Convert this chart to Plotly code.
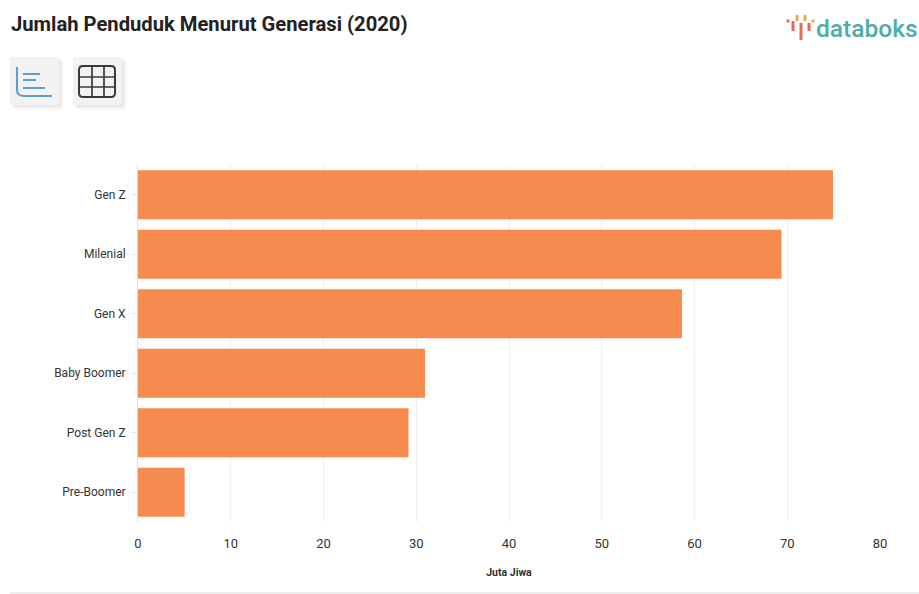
import plotly.graph_objects as go

categories = ["Gen Z", "Milenial", "Gen X", "Baby Boomer", "Post Gen Z", "Pre-Boomer"]
values = [74.93, 69.38, 58.65, 30.95, 29.17, 5.03]
x_ticks = [0, 10, 20, 30, 40, 50, 60, 70, 80]
title_text = "Jumlah Penduduk Menurut Generasi (2020)"
axis_title = "Juta Jiwa"
logo_text = "databoks"

W, H = 919, 594
L, R, T, B = 138, 880, 165, 522


def px(x):
    return (x - L) / (R - L)


def py(y):
    return (B - y) / (B - T)


fig = go.Figure(
    go.Bar(
        x=values,
        y=categories,
        orientation="h",
        marker=dict(color="#f68b50", line=dict(width=0)),
        hoverinfo="x+y",
    )
)

shapes = []


def line(x0, y0, x1, y1, color, width):
    shapes.append(dict(type="line", xref="paper", yref="paper", x0=px(x0), y0=py(y0),
                       x1=px(x1), y1=py(y1), line=dict(color=color, width=width), layer="above"))


def rrect(x0, y0, x1, y1, r, fill, color=None, width=0):
    pts = [
        f"M {px(x0 + r)} {py(y0)}", f"L {px(x1 - r)} {py(y0)}",
        f"Q {px(x1)} {py(y0)} {px(x1)} {py(y0 + r)}", f"L {px(x1)} {py(y1 - r)}",
        f"Q {px(x1)} {py(y1)} {px(x1 - r)} {py(y1)}", f"L {px(x0 + r)} {py(y1)}",
        f"Q {px(x0)} {py(y1)} {px(x0)} {py(y1 - r)}", f"L {px(x0)} {py(y0 + r)}",
        f"Q {px(x0)} {py(y0)} {px(x0 + r)} {py(y0)}", "Z",
    ]
    shapes.append(dict(type="path", xref="paper", yref="paper", path=" ".join(pts),
                       fillcolor=fill, line=dict(color=color or fill, width=width), layer="above"))


def button(x0, y0, x1, y1):
    for d, a in ((5, 0.015), (4, 0.02), (3, 0.025), (2, 0.03)):
        rrect(x0 + d - 1, y0 + d - 1, x1 + d, y1 + d, 3, f"rgba(0,0,0,{a})")
    rrect(x0, y0, x1, y1, 3, "#f2f2f2")


# icon buttons
button(10, 57, 59, 105)
button(73, 57, 122, 105)

# chart icon
blue = "#5d9fca"
shapes.append(dict(type="path", xref="paper", yref="paper",
                   path=f"M {px(17)} {py(67)} L {px(17)} {py(90)} Q {px(17)} {py(96)} {px(24)} {py(96)} L {px(52)} {py(96)}",
                   line=dict(color=blue, width=2), layer="above"))
line(23, 74, 40, 74, blue, 2)
line(23, 80, 36, 80, blue, 2)
line(23, 88, 45, 88, blue, 2)

# table icon
dark = "#3a3a3a"
rrect(79, 66, 115, 97, 4, "rgba(0,0,0,0)", dark, 2)
for gx in (92, 104):
    line(gx, 66, gx, 97, dark, 1.7)
for gy in (77, 87):
    line(79, gy, 115, gy, dark, 1.7)

# logo marks
red, amber = "#e8695a", "#eda94f"
for x0, y0, x1, y1, c in [
    (786.5, 21, 789.5, 21, red),
    (793, 21, 793, 31, red),
    (797, 15, 797, 21, amber),
    (801, 23, 801, 40, red),
    (805, 15, 805, 21, amber),
    (809, 23, 809, 31, red),
    (811.5, 21, 814.5, 21, amber),
]:
    line(x0, y0, x1, y1, c, 3)

# bottom rule
line(10, 593, 919, 593, "#dddddd", 1)

fig.update_layout(
    width=W,
    height=H,
    margin=dict(l=L, r=W - R, t=T, b=H - B, pad=0),
    paper_bgcolor="white",
    plot_bgcolor="white",
    bargap=0.18,
    showlegend=False,
    font=dict(family="Roboto, sans-serif", color="#333333"),
    shapes=shapes,
    annotations=[
        dict(text=f"<b>{title_text}</b>", xref="paper", yref="paper", x=px(9), y=py(24),
             xanchor="left", yanchor="middle", showarrow=False,
             font=dict(size=20.2, color="#222222", family="Roboto, sans-serif")),
        dict(text=logo_text, xref="paper", yref="paper", x=px(920), y=py(28),
             xanchor="right", yanchor="middle", showarrow=False,
             font=dict(size=24.5, color="#4dadab", family="Roboto Medium, Roboto, sans-serif")),
    ],
    xaxis=dict(
        range=[0, 80],
        tickvals=x_ticks,
        showgrid=True,
        gridcolor="#eeeeee",
        gridwidth=1,
        zeroline=False,
        showline=False,
        ticks="",
        ticklabelstandoff=12,
        tickfont=dict(size=13, color="#333333"),
        title=dict(text=f"<b>{axis_title}</b>", font=dict(size=10.5, color="#333333"), standoff=18),
    ),
    yaxis=dict(
        categoryorder="array",
        categoryarray=categories[::-1],
        showgrid=False,
        zeroline=False,
        showline=True,
        linecolor="#dddddd",
        linewidth=1,
        ticks="outside",
        ticklen=6,
        tickcolor="#e6e6e6",
        ticklabelstandoff=3,
        tickfont=dict(size=12, color="#333333"),
    ),
)

fig.write_html(
    "out.html",
    config={"displayModeBar": False},
    post_script="document.body.style.margin='0';document.body.style.overflow='hidden';",
)
